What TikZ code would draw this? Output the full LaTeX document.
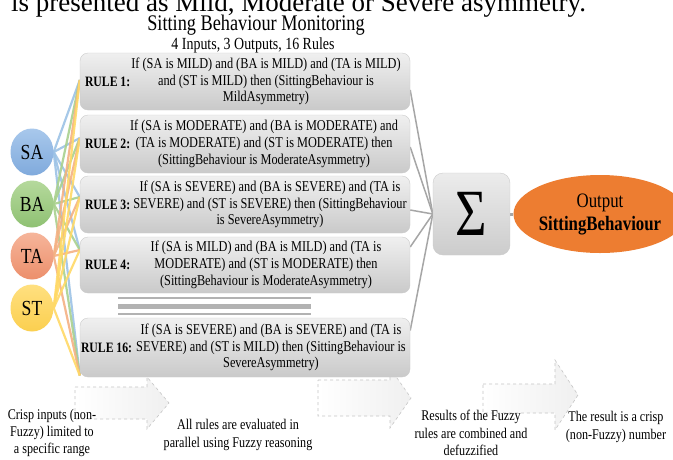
\documentclass[tikz,border=0pt]{standalone}
\usepackage{fontspec}
\setmainfont{Liberation Serif}[FakeStretch=0.82]
\newfontfamily\pagefont{Liberation Serif}
\usetikzlibrary{shapes.geometric,backgrounds}
\definecolor{saTop}{HTML}{A8C8EC}\definecolor{saBot}{HTML}{80AADC}\definecolor{saLine}{HTML}{9DC3E6}
\definecolor{baTop}{HTML}{B5D99C}\definecolor{baBot}{HTML}{8FC173}\definecolor{baLine}{HTML}{A9D18E}
\definecolor{taTop}{HTML}{F6B59A}\definecolor{taBot}{HTML}{EC8F6C}\definecolor{taLine}{HTML}{F4B183}
\definecolor{stTop}{HTML}{FFE080}\definecolor{stBot}{HTML}{FBCF4F}\definecolor{stLine}{HTML}{FFD966}
\definecolor{outOrange}{HTML}{ED7D31}
\definecolor{connGray}{HTML}{A6A6A6}
\begin{document}
\begin{tikzpicture}[x=1pt,y=-1pt,
  rulebox/.style={rectangle, rounded corners=8pt, draw=gray!40, top color=gray!12, bottom color=gray!42, minimum width=330pt, inner sep=0pt},
  rulelbl/.style={font=\bfseries\fontsize{14.3}{16}\selectfont, inner sep=0pt},
  ruletxt/.style={align=center, font=\fontsize{15}{16.8}\selectfont, inner sep=0pt},
  inp/.style={ellipse, minimum width=43pt, minimum height=47pt, inner sep=0pt, font=\fontsize{21.5}{22}\selectfont},
  inline/.style={line width=2.2pt, opacity=0.9},
  sumline/.style={draw=connGray, line width=1.5pt},
  bottxt/.style={align=center, font=\fontsize{14.8}{17.3}\selectfont, inner sep=0pt},
  flowarrow/.style={draw=gray!45, dashed, line width=0.6pt, left color=white, right color=gray!12},
  sepline/.style={draw=gray!60}
]
\clip (0,0) rectangle (673,459);
\useasboundingbox (0,0) rectangle (673,459);

% page text and titles
\node[anchor=base west, inner sep=0pt, font=\pagefont\fontsize{27}{30}\selectfont] (pagetxt) at (11,11) {is presented as Mild, Moderate or Severe asymmetry.};
\node[anchor=base, inner sep=0pt, font=\fontsize{22.3}{24}\selectfont] (title) at (256,30) {Sitting Behaviour Monitoring};
\node[anchor=base, inner sep=0pt, font=\fontsize{17}{19}\selectfont] (subtitle) at (253,49) {4 Inputs, 3 Outputs, 16 Rules};

% rule boxes
\node[rulebox, minimum height=57pt] (r1) at (245,81.5) {};
\node[rulebox, minimum height=58pt] (r2) at (245,144) {};
\node[rulebox, minimum height=57pt] (r3) at (245,204.5) {};
\node[rulebox, minimum height=56pt] (r4) at (245,265) {};
\node[rulebox, minimum height=59pt] (r16) at (245,347.5) {};

\node[rulelbl, anchor=west] (l1) at ([xshift=5pt]r1.west) {RULE 1:};
\node[rulelbl, anchor=west] (l2) at ([xshift=5pt]r2.west) {RULE 2:};
\node[rulelbl, anchor=west] (l3) at ([xshift=5pt]r3.west) {RULE 3:};
\node[rulelbl, anchor=west] (l4) at ([xshift=5pt]r4.west) {RULE 4:};
\node[rulelbl, anchor=west] (l16) at ([xshift=1pt]r16.west) {RULE 16:};

\node[ruletxt] (t1) at (266,81.5) {If (SA is MILD) and (BA is MILD) and (TA is MILD)\\and (ST is MILD) then (SittingBehaviour is\\MildAsymmetry)};
\node[ruletxt] (t2) at (264,144) {If (SA is MODERATE) and (BA is MODERATE) and\\(TA is MODERATE) and (ST is MODERATE) then\\(SittingBehaviour is ModerateAsymmetry)};
\node[ruletxt] (t3) at (270,204.5) {If (SA is SEVERE) and (BA is SEVERE) and (TA is\\SEVERE) and (ST is SEVERE) then (SittingBehaviour\\is SevereAsymmetry)};
\node[ruletxt] (t4) at (266,265) {If (SA is MILD) and (BA is MILD) and (TA is\\MODERATE) and (ST is MODERATE) then\\(SittingBehaviour is ModerateAsymmetry)};
\node[ruletxt] (t16) at (271,347.5) {If (SA is SEVERE) and (BA is SEVERE) and (TA is\\SEVERE) and (ST is MILD) then (SittingBehaviour is\\SevereAsymmetry)};

% separator
\draw[sepline, line width=2.5pt] (118,298) -- (311,298);
\draw[sepline, line width=5pt] (118,306) -- (311,306);
\draw[sepline, line width=2.5pt] (118,314) -- (311,314);

% inputs
\node[inp, top color=saTop, bottom color=saBot] (SA) at (32,152) {SA};
\node[inp, top color=baTop, bottom color=baBot] (BA) at (32,204) {BA};
\node[inp, top color=taTop, bottom color=taBot] (TA) at (32,256) {TA};
\node[inp, top color=stTop, bottom color=stBot] (ST) at (32,308) {ST};

% sum and output
\node[rectangle, rounded corners=10pt, draw=gray!40, top color=gray!15, bottom color=gray!40, minimum width=77pt, minimum height=82pt, inner sep=0pt, font=\fontsize{66}{68}\selectfont] (sig) at (471.5,214) {Σ};
\node[ellipse, fill=outOrange, minimum width=146pt, minimum height=78pt, inner sep=0pt, align=center, font=\fontsize{20.5}{23}\selectfont] (out) at (600,214) {Output\\\textbf{SittingBehaviour}};

% anchor points on rule boxes
\coordinate (i1) at ([yshift=1.5pt]r1.west);
\coordinate (i2) at ([yshift=6pt]r2.west);
\coordinate (i3) at ([yshift=7.5pt]r3.west);
\coordinate (i4) at ([yshift=15pt]r4.west);
\coordinate (i16) at ([yshift=-28pt]r16.west);
\coordinate (o1) at ([yshift=-8.5pt]r1.east);
\coordinate (o2) at ([yshift=-3pt]r2.east);
\coordinate (o3) at ([yshift=-5.5pt]r3.east);
\coordinate (o4) at ([yshift=18pt]r4.east);
\coordinate (o16) at ([yshift=17pt]r16.east);

\begin{scope}[on background layer]
  \fill[white] (0,0) rectangle (673,459);
  % bottom flow arrows
  \path[flowarrow] (75,387) -- (147,387) -- (147,377) -- (169,403) -- (147,429) -- (147,419) -- (75,419) -- cycle;
  \path[flowarrow] (318,380) -- (390,380) -- (390,368) -- (411,398) -- (390,428) -- (390,416) -- (318,416) -- cycle;
  \path[flowarrow] (483,384) -- (555,384) -- (555,360) -- (578,395) -- (555,430) -- (555,413) -- (483,413) -- cycle;
  % input connectors
  \foreach \src/\col in {SA/saLine, BA/baLine, TA/taLine, ST/stLine}{
    \foreach \dst in {i1,i2,i3,i4,i16}{
      \draw[inline, draw=\col] (\src.east) -- (\dst);
    }
  }
  % rule to sum connectors
  \foreach \s in {o1,o2,o3,o4,o16}{
    \draw[sumline] (\s) -- (sig.west);
  }
  \draw[draw=connGray, line width=3pt] (sig.east) -- (out.west);
\end{scope}

% bottom texts
\node[bottxt] (b1) at (52,433) {Crisp inputs (non-\\Fuzzy) limited to\\a specific range};
\node[bottxt] (b2) at (238,435) {All rules are evaluated in\\parallel using Fuzzy reasoning};
\node[bottxt] (b3) at (471,433) {Results of the Fuzzy\\rules are combined and\\defuzzified};
\node[bottxt] (b4) at (616,427) {The result is a crisp\\(non-Fuzzy) number};
\end{tikzpicture}
\end{document}
